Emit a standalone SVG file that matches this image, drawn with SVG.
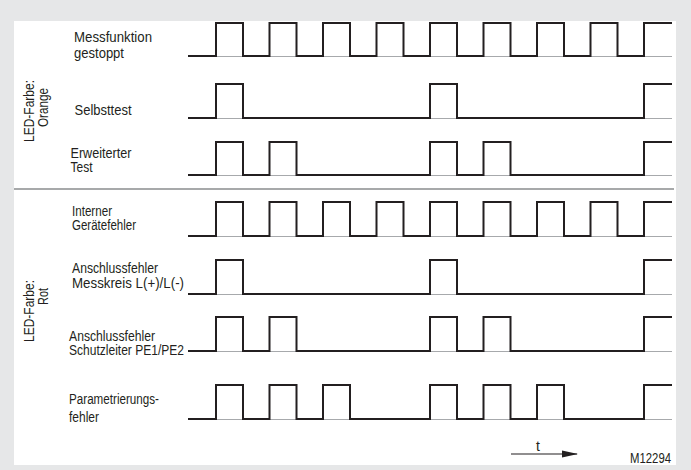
<svg xmlns="http://www.w3.org/2000/svg" width="691" height="470" viewBox="0 0 691 470">
<style>
  .lbl { font-family: "Liberation Sans", Arial, sans-serif; font-size: 14px; fill: #231f20; }
  .wave { fill: none; stroke: #231f20; stroke-width: 2; stroke-linejoin: miter; }
  .base { fill: none; stroke: #a7a9ac; stroke-width: 1; }
</style>
<defs>
  <marker id="arr" viewBox="0 0 16 8" refX="15" refY="4" markerWidth="16" markerHeight="8" markerUnits="userSpaceOnUse" orient="auto">
    <path d="M0,0.5 L16,4 L0,7.5 Z" fill="#231f20"/>
  </marker>
</defs>
<rect x="0" y="0" width="691" height="470" fill="#e6e7e8"/>
<rect x="14" y="21" width="662" height="444" fill="#ffffff"/>
<line x1="14" y1="189" x2="674" y2="189" stroke="#8a8c8e" stroke-width="1.5"/>

<g id="group-orange">
  <text class="lbl" transform="translate(34,142) rotate(-90)" textLength="62" lengthAdjust="spacingAndGlyphs">LED-Farbe:</text>
  <text class="lbl" transform="translate(47.5,127) rotate(-90)" textLength="39" lengthAdjust="spacingAndGlyphs">Orange</text>
</g>
<g id="group-rot">
  <text class="lbl" transform="translate(34,342) rotate(-90)" textLength="62" lengthAdjust="spacingAndGlyphs">LED-Farbe:</text>
  <text class="lbl" transform="translate(47.5,305) rotate(-90)" textLength="17" lengthAdjust="spacingAndGlyphs">Rot</text>
</g>

<g id="row-messfunktion">
  <text class="lbl" x="74" y="42" textLength="78" lengthAdjust="spacingAndGlyphs">Messfunktion</text>
  <text class="lbl" x="74" y="58" textLength="50" lengthAdjust="spacingAndGlyphs">gestoppt</text>
  <line class="base" x1="188" y1="56.5" x2="672" y2="56.5"/>
  <path class="wave" d="M188,56 H216 V23 H243 V56 H269.5 V23 H296.5 V56 H323 V23 H350 V56 H376.5 V23 H403.5 V56 H430 V23 H457 V56 H483.5 V23 H510.5 V56 H537 V23 H564 V56 H590.5 V23 H617.5 V56 H644 V23 H672"/>
</g>
<g id="row-selbsttest">
  <text class="lbl" x="74.5" y="115" textLength="57" lengthAdjust="spacingAndGlyphs">Selbsttest</text>
  <line class="base" x1="188" y1="118.5" x2="672" y2="118.5"/>
  <path class="wave" d="M188,118 H216 V84 H243 V118 H430 V84 H457 V118 H644 V84 H672"/>
</g>
<g id="row-erweiterter">
  <text class="lbl" x="70.5" y="157.5" textLength="61" lengthAdjust="spacingAndGlyphs">Erweiterter</text>
  <text class="lbl" x="70.5" y="172" textLength="22" lengthAdjust="spacingAndGlyphs">Test</text>
  <line class="base" x1="188" y1="175.5" x2="672" y2="175.5"/>
  <path class="wave" d="M188,175 H216 V142 H243 V175 H269.5 V142 H296.5 V175 H430 V142 H457 V175 H483.5 V142 H510.5 V175 H644 V142 H672"/>
</g>
<g id="row-interner">
  <text class="lbl" x="72" y="216" textLength="40" lengthAdjust="spacingAndGlyphs">Interner</text>
  <text class="lbl" x="72" y="230" textLength="64" lengthAdjust="spacingAndGlyphs">Gerätefehler</text>
  <line class="base" x1="188" y1="236.5" x2="672" y2="236.5"/>
  <path class="wave" d="M188,236 H216 V202 H243 V236 H269.5 V202 H296.5 V236 H323 V202 H350 V236 H376.5 V202 H403.5 V236 H430 V202 H457 V236 H483.5 V202 H510.5 V236 H537 V202 H564 V236 H590.5 V202 H617.5 V236 H644 V202 H672"/>
</g>
<g id="row-messkreis">
  <text class="lbl" x="72" y="272.5" textLength="86" lengthAdjust="spacingAndGlyphs">Anschlussfehler</text>
  <text class="lbl" x="72" y="288" textLength="112" lengthAdjust="spacingAndGlyphs">Messkreis L(+)/L(-)</text>
  <line class="base" x1="188" y1="294.5" x2="672" y2="294.5"/>
  <path class="wave" d="M188,294 H216 V260 H243 V294 H430 V260 H457 V294 H644 V260 H672"/>
</g>
<g id="row-schutzleiter">
  <text class="lbl" x="69" y="340.5" textLength="86" lengthAdjust="spacingAndGlyphs">Anschlussfehler</text>
  <text class="lbl" x="69" y="355" textLength="115" lengthAdjust="spacingAndGlyphs">Schutzleiter PE1/PE2</text>
  <line class="base" x1="188" y1="351.5" x2="672" y2="351.5"/>
  <path class="wave" d="M188,351 H216 V317 H243 V351 H269.5 V317 H296.5 V351 H430 V317 H457 V351 H483.5 V317 H510.5 V351 H644 V317 H672"/>
</g>
<g id="row-parametrierung">
  <text class="lbl" x="69" y="404" textLength="90" lengthAdjust="spacingAndGlyphs">Parametrierungs-</text>
  <text class="lbl" x="69" y="421.5" textLength="30" lengthAdjust="spacingAndGlyphs">fehler</text>
  <line class="base" x1="188" y1="419.5" x2="672" y2="419.5"/>
  <path class="wave" d="M188,419 H216 V385 H243 V419 H269.5 V385 H296.5 V419 H323 V385 H350 V419 H430 V385 H457 V419 H483.5 V385 H510.5 V419 H537 V385 H564 V419 H644 V385 H672"/>
</g>

<g id="connectors">
  <line x1="511" y1="454" x2="577" y2="454" stroke="#231f20" stroke-width="1.2" marker-end="url(#arr)"/>
</g>
<g id="time-label">
  <text class="lbl" x="538" y="451" text-anchor="middle">t</text>
</g>
<g id="figure-id">
  <text class="lbl" x="630" y="463" font-size="13" textLength="41" lengthAdjust="spacingAndGlyphs">M12294</text>
</g>
</svg>
